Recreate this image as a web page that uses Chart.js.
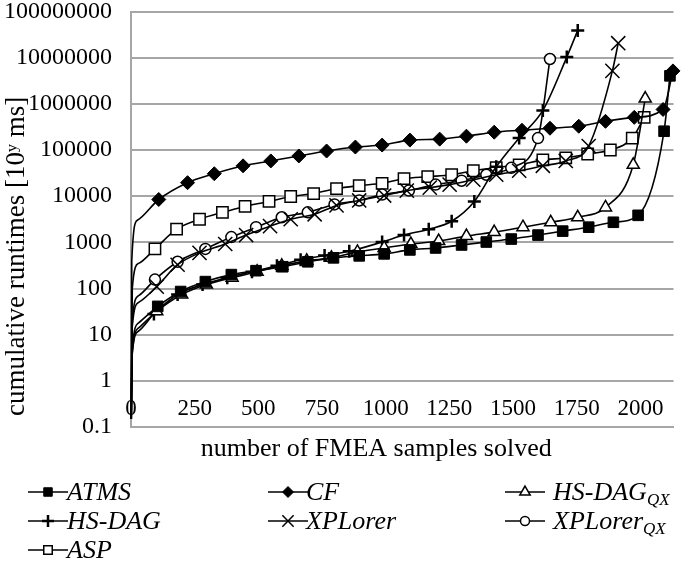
<!DOCTYPE html>
<html>
<head>
<meta charset="utf-8">
<script src="https://cdn.jsdelivr.net/npm/chart.js@4.4.1/dist/chart.umd.min.js"></script>
<style>
  body { margin: 0; background: #fff; width: 685px; height: 564px; position: relative; overflow: hidden;
         font-family: "Liberation Serif", "Times New Roman", serif; }
  #chart { position: absolute; left: 0; top: 0; }
  .icon { position: absolute; }
  .lab { position: absolute; font-style: italic; font-size: 26px; line-height: 30px; white-space: nowrap; color: #000; }
  .lab sub { font-size: 17px; vertical-align: -5px; line-height: 0; }
</style>
</head>
<body>
<canvas id="chart" width="685" height="470"></canvas>
<div id="legend"></div>
<script>
// first 3 points of every series only shape the steep start, they carry no marker
const LEAD = 3;

const atmsX = [1, 5, 30, 105, 195, 292, 394, 491, 596, 694, 795, 896, 994, 1095, 1196, 1298, 1395, 1493, 1598, 1695, 1797, 1894, 1991, 2093, 2116];
const atmsY = [0.15, 5, 18, 41, 86, 141, 200, 243, 296, 379, 461, 509, 562, 685, 755, 877, 1016, 1178, 1436, 1750, 2130, 2720, 3845, 255000, 4040000];

const cfX = [1, 3, 25, 109, 222, 327, 440, 549, 659, 768, 881, 986, 1095, 1212, 1317, 1426, 1535, 1645, 1758, 1863, 1976, 2089, 2128];
const cfY = [0.15, 400, 3000, 8470, 19600, 30600, 45400, 58000, 74300, 95100, 115800, 128000, 164000, 172000, 199000, 243000, 268000, 296000, 327000, 418000, 509000, 756000, 5170000];

const hsQxX = [1, 5, 30, 101, 199, 296, 397, 495, 592, 690, 787, 889, 994, 1099, 1208, 1317, 1426, 1539, 1648, 1754, 1863, 1972, 2019];
const hsQxY = [0.15, 4, 14, 32, 74, 122, 172, 231, 311, 397, 461, 621, 755, 920, 1067, 1365, 1665, 2130, 2720, 3490, 5710, 47700, 1300000];

const hsX = [1, 5, 30, 90, 183, 281, 378, 475, 573, 666, 760, 857, 986, 1072, 1169, 1259, 1348, 1434, 1524, 1617, 1711, 1754];
const hsY = [0.15, 4, 12, 28, 74, 122, 172, 231, 311, 418, 520, 640, 1016, 1436, 1928, 2864, 7680, 43200, 181000, 719000, 10300000, 39000000];

const xplX = [1, 5, 30, 101, 183, 269, 370, 452, 546, 627, 721, 807, 896, 994, 1083, 1173, 1251, 1344, 1434, 1524, 1617, 1707, 1797, 1890, 1913];
const xplY = [0.15, 15, 50, 110, 327, 590, 920, 1436, 2240, 3160, 4050, 6310, 8070, 10300, 13200, 15300, 17800, 22700, 29100, 35500, 45400, 58000, 122000, 5170000, 20600000];

const xplQxX = [1, 5, 30, 94, 183, 292, 394, 491, 592, 694, 799, 896, 986, 1091, 1196, 1298, 1395, 1493, 1598, 1645];
const xplQxY = [0.15, 20, 70, 156, 379, 719, 1300, 2130, 3490, 4460, 6620, 8070, 10800, 13200, 17800, 21600, 29100, 41100, 181000, 9350000];

const aspX = [1, 5, 30, 94, 179, 269, 359, 448, 542, 627, 717, 807, 896, 986, 1072, 1165, 1259, 1344, 1434, 1524, 1617, 1707, 1793, 1882, 1968, 2015];
const aspY = [0.15, 100, 350, 719, 1928, 3160, 4460, 6000, 7680, 9830, 11400, 14600, 16900, 19000, 23900, 26400, 29100, 35500, 41700, 47700, 61000, 67300, 82000, 100000, 181000, 509000];

const xTicks = [0, 250, 500, 750, 1000, 1250, 1500, 1750, 2000];
const xTickLabels = ['0', '250', '500', '750', '1000', '1250', '1500', '1750', '2000'];
const yTicks = [0.1, 1, 10, 100, 1000, 10000, 100000, 1000000, 10000000, 100000000];
const yTickLabels = ['0.1', '1', '10', '100', '1000', '10000', '100000', '1000000', '10000000', '100000000'];

const FONT = '"Liberation Serif", "Times New Roman", serif';

function series(label, xs, ys, style) {
  return {
    label: label,
    data: xs.map((x, i) => ({x: x, y: ys[i]})),
    borderColor: '#000',
    borderWidth: 1.6,
    pointStyle: style.shape,
    pointRadius: ctx => ctx.dataIndex < LEAD ? 0 : style.r,
    pointBackgroundColor: style.fill,
    pointBorderColor: '#000',
    pointBorderWidth: style.bw,
    cubicInterpolationMode: 'monotone',
    clip: 12,
    legendR: style.lr
  };
}

// legend layout order, 3 columns like the original
const datasets = [
  series('ATMS', atmsX, atmsY, {shape: 'rect', r: 7.5, fill: '#000', bw: 1, lr: 6}),
  series('CF', cfX, cfY, {shape: 'rectRot', r: 7, fill: '#000', bw: 1, lr: 5.5}),
  series('HS-DAG_QX', hsQxX, hsQxY, {shape: 'triangle', r: 7, fill: '#fff', bw: 1.5, lr: 6}),
  series('HS-DAG', hsX, hsY, {shape: 'cross', r: 6.5, fill: '#000', bw: 2.5, lr: 6}),
  series('XPLorer', xplX, xplY, {shape: 'crossRot', r: 10, fill: '#000', bw: 1.5, lr: 8}),
  series('XPLorer_QX', xplQxX, xplQxY, {shape: 'circle', r: 5.5, fill: '#fff', bw: 1.5, lr: 4.5}),
  series('ASP', aspX, aspY, {shape: 'rect', r: 8, fill: '#fff', bw: 1.5, lr: 6})
];

new Chart(document.getElementById('chart'), {
  type: 'line',
  data: {datasets: datasets},
  options: {
    responsive: false,
    animation: false,
    devicePixelRatio: 1,
    layout: {padding: {top: 7, right: 6, left: 0, bottom: 0}},
    plugins: {legend: {display: false}, tooltip: {enabled: false}},
    scales: {
      x: {
        type: 'linear',
        min: 0,
        max: 2130,
        afterBuildTicks: s => { s.ticks = xTicks.map(v => ({value: v})); },
        afterFit: s => { s.height = 43; },
        grid: {display: false, drawTicks: false},
        border: {display: true, color: '#a6a6a6', width: 2},
        // labels sit inside the plot, just above the 0.1 line
        ticks: {
          font: {family: FONT, size: 23},
          color: '#000',
          mirror: true,
          padding: 4,
          maxRotation: 0,
          autoSkip: false,
          callback: v => xTickLabels[xTicks.indexOf(v)]
        },
        title: {
          display: true,
          text: 'number of FMEA samples solved        ',
          font: {family: FONT, size: 26},
          color: '#000',
          padding: {top: 0, bottom: 5}
        }
      },
      y: {
        type: 'logarithmic',
        min: 0.1,
        max: 100000000,
        afterBuildTicks: s => { s.ticks = yTicks.map(v => ({value: v})); },
        afterFit: s => { s.width = 131; s.paddingTop = 0; s.paddingBottom = 0; },
        grid: {color: '#a6a6a6', lineWidth: 2, drawTicks: false},
        border: {display: true, color: '#a6a6a6', width: 2},
        ticks: {
          font: {family: FONT, size: 24},
          color: '#000',
          padding: 19,
          autoSkip: false,
          callback: v => yTickLabels[yTicks.indexOf(v)]
        },
        title: {
          display: true,
          text: 'cumulative runtimes [10\u02B8 ms]           ',
          font: {family: FONT, size: 27},
          color: '#000',
          padding: {top: 1, bottom: 0}
        }
      }
    }
  }
});

// html legend so that the QX subscripts can be real subscripts
const iconLeft = [28, 268, 505];
const textLeft = [67, 306, 553];
const rowMid = [492, 521, 550];
const legend = document.getElementById('legend');
datasets.forEach((ds, i) => {
  const col = i % 3, row = Math.floor(i / 3);
  const cv = document.createElement('canvas');
  cv.width = 40; cv.height = 20;
  cv.className = 'icon';
  cv.style.left = iconLeft[col] + 'px';
  cv.style.top = (rowMid[row] - 10) + 'px';
  const c = cv.getContext('2d');
  c.strokeStyle = '#000';
  c.lineWidth = 1.6;
  c.beginPath(); c.moveTo(0, 10); c.lineTo(40, 10); c.stroke();
  c.fillStyle = ds.pointBackgroundColor;
  c.lineWidth = ds.pointBorderWidth;
  if (Chart.helpers && Chart.helpers.drawPoint) {
    Chart.helpers.drawPoint(c, {pointStyle: ds.pointStyle, radius: ds.legendR, rotation: 0, borderWidth: ds.pointBorderWidth}, 20, 10);
  }
  legend.appendChild(cv);

  const t = document.createElement('div');
  t.className = 'lab';
  const parts = ds.label.split('_');
  t.innerHTML = parts[0] + (parts[1] ? '<sub>' + parts[1] + '</sub>' : '');
  t.style.left = textLeft[col] + 'px';
  t.style.top = (rowMid[row] - 15) + 'px';
  legend.appendChild(t);
});
</script>
</body>
</html>
